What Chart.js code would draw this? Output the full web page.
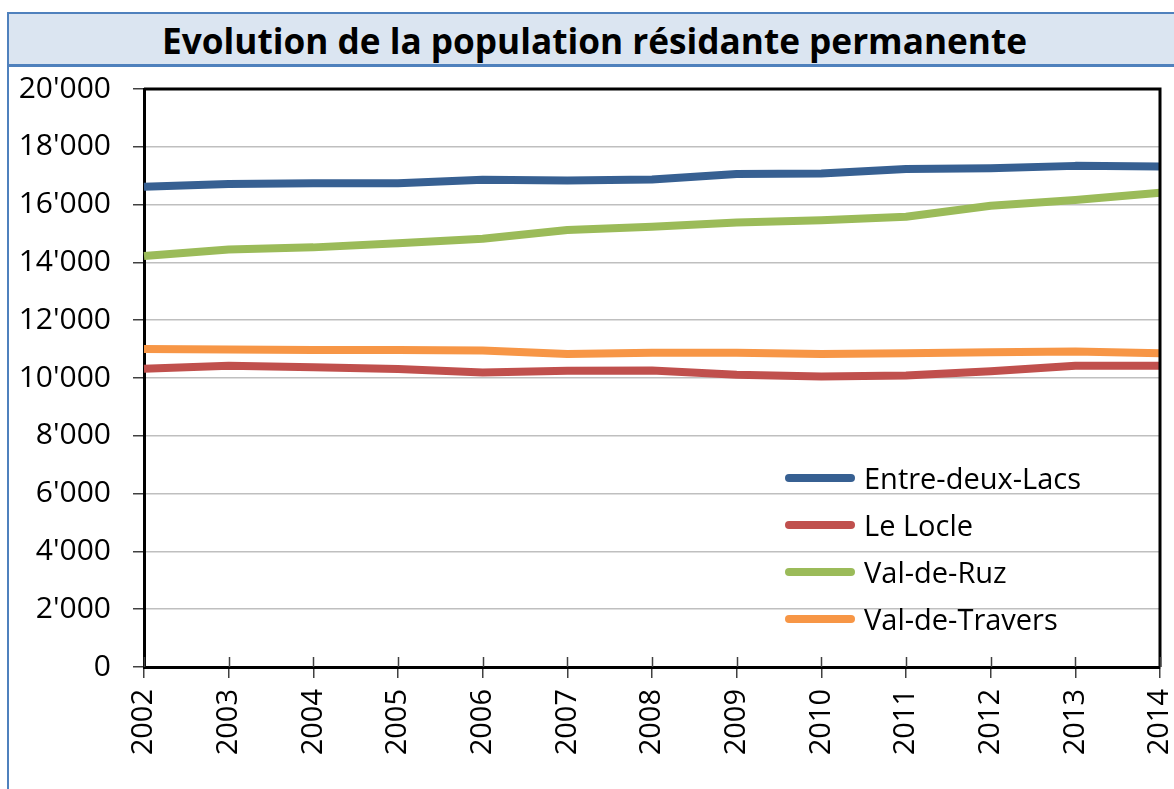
<!DOCTYPE html>
<html>
<head>
<meta charset="utf-8">
<script src="https://cdn.jsdelivr.net/npm/chart.js@4.4.1/dist/chart.umd.min.js"></script>
<style>
  html, body { margin: 0; padding: 0; background: #ffffff; overflow: hidden; }
  body { width: 1174px; height: 789px; position: relative; font-family: 'Open Sans', sans-serif; }
  #frame {
    position: absolute; left: 7px; top: 12px; width: 1172px; height: 800px;
    border-left: 2px solid #4f81bd; border-top: 2px solid #4f81bd;
  }
  #titleBand {
    position: absolute; left: 0; top: 0; width: 100%; height: 50px;
    background: #dbe5f1; border-bottom: 3px solid #4f81bd;
    display: flex; align-items: center; justify-content: center;
  }
  #title {
    font-family: 'Open Sans', sans-serif; font-weight: 700; font-size: 36px;
    color: #000; white-space: nowrap; display: inline-block; transform-origin: center;
    position: relative; top: 1px;
  }
  #chartWrap { position: absolute; left: 10px; top: 66px; width: 1164px; height: 723px; }
  #legend { position: absolute; left: 785px; top: 454px; }
  .row { display: flex; align-items: center; height: 47px; }
  .swatch { width: 70px; height: 8px; border-radius: 4px; margin-right: 9px; }
  .label { font-size: 29px; color: #000; line-height: 1; }
</style>
</head>
<body>
<div id="frame">
  <div id="titleBand"><span id="title">Evolution de la population résidante permanente</span></div>
</div>
<div id="chartWrap"><canvas id="popChart" width="1164" height="723"></canvas></div>
<div id="legend"></div>
<script>
const years = ['2002', '2003', '2004', '2005', '2006', '2007', '2008', '2009', '2010', '2011', '2012', '2013', '2014'];
const seriesNames = ['Entre-deux-Lacs', 'Le Locle', 'Val-de-Ruz', 'Val-de-Travers'];
const entreDeuxLacs = [16620, 16710, 16740, 16740, 16860, 16830, 16870, 17060, 17080, 17230, 17260, 17340, 17320];
const leLocle = [10320, 10420, 10370, 10310, 10190, 10250, 10260, 10110, 10050, 10090, 10230, 10420, 10420];
const valDeRuz = [14220, 14450, 14520, 14660, 14820, 15120, 15230, 15380, 15460, 15580, 15960, 16160, 16410];
const valDeTravers = [11000, 10990, 10970, 10970, 10950, 10830, 10870, 10870, 10830, 10860, 10890, 10920, 10860];
const seriesColors = ['#376092', '#c0504d', '#9bbb59', '#f79646'];
const yTicks = [0, 2000, 4000, 6000, 8000, 10000, 12000, 14000, 16000, 18000, 20000];

// fit the title to the width it has in the picture
const titleEl = document.getElementById('title');
titleEl.style.transform = 'scaleX(' + (865 / titleEl.getBoundingClientRect().width) + ')';

function formatThousands(v) {
    return String(v).replace(/\B(?=(\d{3})+(?!\d))/g, "'");
}

const allSeries = [entreDeuxLacs, leLocle, valDeRuz, valDeTravers];

// html legend, built from the series
const legendEl = document.getElementById('legend');
seriesNames.forEach((name, i) => {
    const row = document.createElement('div');
    row.className = 'row';
    row.innerHTML = '<span class="swatch" style="background:' + seriesColors[i] + '"></span><span class="label">' + name + '</span>';
    legendEl.appendChild(row);
});

// plot area border on top/right and the part of x ticks above the axis
const plotFrame = {
    id: 'plotFrame',
    afterDraw(chart) {
        const { ctx, chartArea, scales } = chart;
        ctx.save();
        ctx.strokeStyle = '#000000';
        ctx.lineWidth = 3;
        ctx.beginPath();
        ctx.moveTo(chartArea.left, chartArea.top);
        ctx.lineTo(chartArea.right, chartArea.top);
        ctx.lineTo(chartArea.right, chartArea.bottom);
        ctx.stroke();
        ctx.lineWidth = 1.5;
        ctx.strokeStyle = '#404040';
        scales.x.ticks.forEach((t, i) => {
            const x = Math.round(scales.x.getPixelForTick(i)) + 0.5;
            ctx.beginPath();
            ctx.moveTo(x, chartArea.bottom - 10);
            ctx.lineTo(x, chartArea.bottom);
            ctx.stroke();
        });
        ctx.restore();
    }
};

const ctx = document.getElementById('popChart').getContext('2d');
new Chart(ctx, {
    type: 'line',
    data: {
        labels: years,
        datasets: seriesNames.map((name, i) => ({
            label: name,
            data: allSeries[i],
            borderColor: seriesColors[i],
            backgroundColor: seriesColors[i],
            borderWidth: 8,
            pointRadius: 0,
            tension: 0,
            borderJoinStyle: 'round',
            fill: false
        })).reverse()
    },
    options: {
        responsive: false,
        animation: false,
        devicePixelRatio: 1,
        layout: { padding: { top: 23, right: 14, bottom: 0, left: 0 } },
        plugins: {
            legend: { display: false },
            title: { display: false },
            tooltip: { enabled: false }
        },
        scales: {
            x: {
                offset: false,
                grid: {
                    drawOnChartArea: false,
                    drawTicks: true,
                    tickLength: 11,
                    tickColor: '#404040',
                    lineWidth: 1.5
                },
                border: { display: true, color: '#000000', width: 3 },
                ticks: {
                    color: '#000000',
                    font: { family: "'Open Sans', sans-serif", size: 29 },
                    minRotation: 90,
                    maxRotation: 90,
                    padding: 11,
                    autoSkip: false
                },
                afterFit(scale) {
                    scale.height = 122;
                    scale.paddingLeft = 0;
                    scale.paddingRight = 0;
                }
            },
            y: {
                min: 0,
                max: 20000,
                afterBuildTicks(scale) { scale.ticks = yTicks.map(v => ({ value: v })); },
                grid: {
                    color: '#bfbfbf',
                    lineWidth: 1.5,
                    drawTicks: true,
                    tickLength: 11,
                    tickColor: '#404040'
                },
                border: { display: true, color: '#000000', width: 3 },
                ticks: {
                    color: '#000000',
                    font: { family: "'Open Sans', sans-serif", size: 30 },
                    padding: 22,
                    callback: (v) => formatThousands(v)
                },
                afterFit(scale) {
                    scale.width = 134;
                    scale.paddingTop = 0;
                    scale.paddingBottom = 0;
                }
            }
        }
    },
    plugins: [plotFrame]
});
</script>
</body>
</html>
